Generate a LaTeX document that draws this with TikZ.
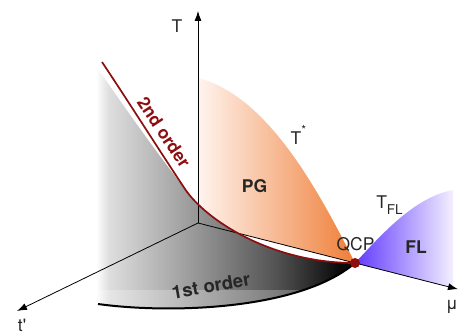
\documentclass[tikz,border=0pt]{standalone}
\usepackage{fontspec}
\setmainfont{TeX Gyre Heros}
\usetikzlibrary{arrows.meta}
\definecolor{dred}{RGB}{140,14,14}
\definecolor{txt}{RGB}{38,38,38}
\definecolor{orA}{RGB}{255,244,238}
\definecolor{orB}{RGB}{239,126,56}
\definecolor{puA}{RGB}{98,58,255}
\definecolor{puB}{RGB}{243,240,255}
\definecolor{gA}{gray}{0.87}
\definecolor{gB}{gray}{0.58}
\definecolor{gC}{gray}{0.32}
\definecolor{gD}{gray}{0.04}
\pgfdeclarehorizontalshading{wallshade}{100bp}{color(0bp)=(white); color(25bp)=(white); color(27.5bp)=(gA); color(45bp)=(gB); color(60bp)=(gC); color(72bp)=(gD); color(100bp)=(gD)}
\def\wallpath{(96,66) .. controls (125,108) and (156,152) .. (185,189) .. controls (205,219) and (270,263) .. (355,263) .. controls (300,310) and (170,314) .. (98,304) -- (96,304) -- cycle}
\begin{document}
\begin{tikzpicture}[x=1pt,y=-1pt,font=\fontsize{17.5}{20}\selectfont,
  axis/.style={draw=black,line width=0.8pt,-{Latex[length=10pt,width=7pt]}},
  lbl/.style={text=txt,inner sep=0pt,anchor=base},
  blbl/.style={lbl,font=\fontsize{17.5}{20}\selectfont\bfseries}]
\useasboundingbox (0,0) rectangle (458,334);
\coordinate (O) at (198,223);
\coordinate (Ttip) at (198,11);
\coordinate (tp) at (17,311);
\coordinate (mu) at (458,289.2);
\coordinate (QCP) at (355,263);
\coordinate (R0) at (102,62);
\coordinate (R1) at (185,189);
\coordinate (B0) at (98,304);
\coordinate (S0) at (198,78);
\coordinate (F1) at (453,190);
\coordinate (F2) at (453,288.3);
% gray wall and floor
\path[shading=wallshade] \wallpath;
\begin{scope}
  \clip \wallpath;
  \fill[white,opacity=0.25] (90,290) rectangle (360,320);
\end{scope}
% pseudogap region
\begin{scope}
  \clip (90,0) -- (90,62) -- (R0) .. controls (130,104) and (160,151.5) .. (R1) .. controls (205,219) and (270,263) .. (QCP) -- (460,263) -- (460,0) -- cycle;
  \shade[left color=orA,right color=orB] (S0) .. controls (265,95) and (315,183) .. (QCP) -- (O) -- cycle;
\end{scope}
% Fermi liquid region
\shade[left color=puA,right color=puB] (QCP) .. controls (383,233) and (415,197) .. (F1) -- (F2) -- cycle;
% axes
\draw[axis] (O) -- (Ttip);
\draw[axis] (O) -- (tp);
\draw[axis] (O) -- (mu);
% transition lines
\draw[dred,line width=1.7pt] (R0) .. controls (130,104) and (160,151.5) .. (R1) .. controls (205,219) and (270,263) .. (QCP);
\draw[black,line width=2pt] (B0) .. controls (170,314) and (300,310) .. (QCP);
\fill[dred] (QCP) circle (5pt);
% labels
\node[lbl] (Tl) at (177,33) {T};
\node[lbl] (tl) at (22,331) {t\textquotesingle};
\node[lbl] (mul) at (452,309) {μ};
\node[lbl] (Ts) at (298.5,145) {T\raisebox{10pt}{\fontsize{12.5}{12}\selectfont *}};
\node[blbl] (PG) at (254.5,193) {PG};
\node[lbl] (QCPl) at (355.5,250) {QCP};
\node[lbl] (TFL) at (389.5,208) {T\raisebox{-6pt}{\fontsize{13.5}{14}\selectfont FL}};
\node[blbl] (FLl) at (416,253) {FL};
\node[text=dred,inner sep=0pt,font=\fontsize{17.5}{20}\selectfont\bfseries,rotate=-56.5] (so) at (164,132.5) {2nd order};
\node[text=txt,inner sep=0pt,font=\fontsize{18.5}{20}\selectfont\bfseries,rotate=10] (fo) at (211,286) {1st order};
\end{tikzpicture}
\end{document}
